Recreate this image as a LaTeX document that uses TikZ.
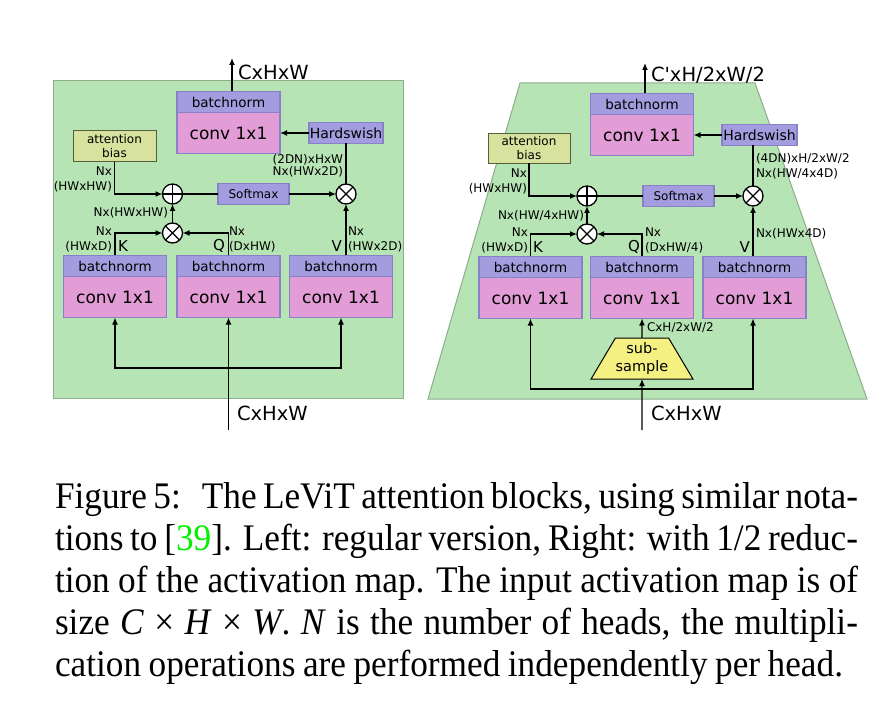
\documentclass[tikz,border=0pt]{standalone}
\usepackage{fontspec}
\setmainfont{Liberation Serif}
\newfontfamily\dejavu{DejaVu Sans}[Ligatures=TeXOff]
\usepackage{xcolor}
\usepackage{graphicx}
\usetikzlibrary{arrows.meta, positioning, shapes.geometric}

\definecolor{panelgreen}{RGB}{183,228,180}
\definecolor{paneledge}{RGB}{140,172,140}
\definecolor{bnfill}{RGB}{163,156,222}
\definecolor{bnedge}{RGB}{136,128,200}
\definecolor{convfill}{RGB}{226,157,214}
\definecolor{biasfill}{RGB}{214,226,158}
\definecolor{biasedge}{RGB}{85,95,60}
\definecolor{subfill}{RGB}{245,240,130}
\definecolor{citegreen}{RGB}{0,240,0}

% one justified caption line, narrowed a bit
\newcommand{\capline}[2]{\scalebox{0.94}[1]{\makebox[\dimexpr #1pt*100/94\relax][s]{#2}}}

\begin{document}
\begin{tikzpicture}[x=1pt, y=-1pt,
  every node/.style={inner sep=0pt, outer sep=0pt, font=\dejavu},
  bn/.style={rectangle, draw=bnedge, line width=1.2pt, fill=bnfill, minimum width=103pt, minimum height=21pt, font=\dejavu\fontsize{13.5}{16}\selectfont},
  conv/.style={rectangle, draw=bnedge, line width=1.2pt, fill=convfill, minimum width=103pt, minimum height=41pt, font=\dejavu\fontsize{17}{20}\selectfont},
  act/.style={rectangle, draw=bnedge, line width=1.2pt, fill=bnfill, minimum height=21pt, font=\dejavu\fontsize{14}{16}\selectfont},
  bias/.style={rectangle, draw=biasedge, line width=1pt, fill=biasfill, minimum width=83pt, minimum height=31pt, align=center, font=\dejavu\fontsize{12}{14}\selectfont},
  op/.style={circle, draw, line width=1.3pt, fill=white, minimum size=20pt},
  plus/.style={op, path picture={\draw[line width=1.3pt] (path picture bounding box.north) -- (path picture bounding box.south) (path picture bounding box.west) -- (path picture bounding box.east);}},
  times/.style={op, path picture={\draw[line width=1.3pt] (path picture bounding box.north west) -- (path picture bounding box.south east) (path picture bounding box.south west) -- (path picture bounding box.north east);}},
  sub/.style={trapezium, trapezium stretches=true, trapezium left angle=53, trapezium right angle=53, draw, line width=1pt, fill=subfill, minimum width=102pt, minimum height=41pt, align=center, font=\dejavu\fontsize{14.5}{18}\selectfont},
  lbl/.style={font=\dejavu\fontsize{12}{15}\selectfont},
  kqv/.style={font=\dejavu\fontsize{15}{18}\selectfont},
  big/.style={font=\dejavu\fontsize{19.5}{23}\selectfont},
  captext/.style={font=\rmfamily\fontsize{37.5}{42}\selectfont},
  arr/.style={-{Latex[length=7pt,width=6pt]}, line width=1.3pt},
  wire/.style={line width=1.3pt},
  panel/.style={fill=panelgreen, draw=paneledge, line width=1pt}]
  \useasboundingbox (0,0) rectangle (876,722);

  % Left block: regular attention
  \draw[panel] (53,81) rectangle (403,398);
  \node[bn] (lbn0) at (228.5,102) {batchnorm};
  \node[conv, below=0pt of lbn0] (lcv0) {conv 1x1};
  \node[act, minimum width=74pt] (lhs) at (346,133) {Hardswish};
  \node[bias] (lab) at (114.5,146.5) {attention\\bias};
  \node[plus] (ladd) at (172.5,194) {};
  \node[act, minimum width=71pt, font=\dejavu\fontsize{12}{14}\selectfont] (lsm) at (253.5,194) {Softmax};
  \node[times] (lmul2) at (346,194) {};
  \node[times] (lmul1) at (172.5,233) {};
  \foreach \n/\x in {k/115,q/228.5,v/341} {
    \node[bn] (lbn\n) at (\x,266) {batchnorm};
    \node[conv, below=0pt of lbn\n] (lcv\n) {conv 1x1};
  }

  \coordinate (lout) at (232,58);
  \coordinate (lin) at (228.5,430);
  \coordinate (lbus) at (0,368);
  \draw[arr] (lout |- lbn0.north) -- (lout);
  \draw[arr] (lhs.west) -- (lhs.west -| lcv0.east);
  \draw[arr] (lab.south) |- (ladd.west);
  \draw[wire] (ladd) -- (lsm);
  \draw[arr] (lsm) -- (lmul2);
  \draw[wire] (lhs) -- (lmul2);
  \draw[arr] (lmul1) -- (ladd);
  \draw[arr] (lbnk.north) |- (lmul1.west);
  \draw[arr] (lbnq.north) |- (lmul1.east);
  \draw[arr] (lmul2 |- lbnv.north) -- (lmul2);
  \draw[arr] (lin) -- (lcvq.south);
  \draw[arr] (lin |- lbus) -| (lcvk.south);
  \draw[arr] (lin |- lbus) -| (lcvv.south);

  \node[big, anchor=west] (loutlbl) at (238,72) {CxHxW};
  \node[big, anchor=west] (linlbl) at (237,413) {CxHxW};
  \node[lbl, anchor=east, align=right] (lbiaslbl) at (112,179.5) {Nx\\(HWxHW)};
  \node[lbl, anchor=east] (lattlbl) at (168,213) {Nx(HWxHW)};
  \node[lbl, anchor=east, align=right] (lklbl) at (112,239.5) {Nx\\(HWxD)};
  \node[kqv, anchor=west] (lk) at (118,246) {K};
  \node[kqv, anchor=east] (lq) at (225,246) {Q};
  \node[lbl, anchor=west, align=left] (lqlbl) at (229,239.5) {Nx\\(DxHW)};
  \node[kqv, anchor=east] (lv) at (342,246) {V};
  \node[lbl, anchor=west, align=left] (lvlbl) at (348,239.5) {Nx\\(HWx2D)};
  \node[lbl, anchor=east, align=right, font=\dejavu\fontsize{12}{10.5}\selectfont] (lmullbl) at (343,166) {(2DN)xHxW\\Nx(HWx2D)};

  % Right block: with 1/2 subsampling
  \draw[panel] (520,83) -- (755,83) -- (867,399) -- (428,399) -- cycle;
  \node[bn] (rbn0) at (642,104) {batchnorm};
  \node[conv, below=0pt of rbn0] (rcv0) {conv 1x1};
  \node[act, minimum width=75pt] (rhs) at (759.5,135) {Hardswish};
  \node[bias, minimum width=82pt, minimum height=30pt] (rab) at (529,148.5) {attention\\bias};
  \node[plus] (radd) at (587,196) {};
  \node[act, minimum width=71pt, font=\dejavu\fontsize{12}{14}\selectfont] (rsm) at (678.5,196) {Softmax};
  \node[times] (rmul2) at (753,196) {};
  \node[times] (rmul1) at (587,234) {};
  \foreach \n/\x in {k/530.5,q/642,v/754.5} {
    \node[bn] (rbn\n) at (\x,267) {batchnorm};
    \node[conv, below=0pt of rbn\n] (rcv\n) {conv 1x1};
  }
  \node[sub] (rsub) at (642,358.5) {sub-\\sample};

  \coordinate (rout) at (645,63);
  \coordinate (rin) at (642,430);
  \coordinate (rbus) at (0,389);
  \draw[arr] (rout |- rbn0.north) -- (rout);
  \draw[arr] (rhs.west) -- (rhs.west -| rcv0.east);
  \draw[arr] (rab.south) |- (radd.west);
  \draw[wire] (radd) -- (rsm);
  \draw[arr] (rsm) -- (rmul2);
  \draw[wire] (rmul2 |- rhs.south) -- (rmul2);
  \draw[arr] (rmul1) -- (radd);
  \draw[arr] (rbnk.north) |- (rmul1.west);
  \draw[arr] (rbnq.north) |- (rmul1.east);
  \draw[arr] (rmul2 |- rbnv.north) -- (rmul2);
  \draw[arr] (rsub.north) -- (rcvq.south);
  \draw[arr] (rin) -- (rsub.south);
  \draw[arr] (rin |- rbus) -| (rcvk.south);
  \draw[arr] (rin |- rbus) -| (rmul2 |- rcvv.south);

  \node[big, anchor=west] (routlbl) at (651,75) {C'xH/2xW/2};
  \node[big, anchor=west] (rinlbl) at (651,413) {CxHxW};
  \node[lbl, anchor=west] (rsublbl) at (647,328) {CxH/2xW/2};
  \node[lbl, anchor=east, align=right] (rbiaslbl) at (527,181) {Nx\\(HWxHW)};
  \node[lbl, anchor=east] (rattlbl) at (584,216) {Nx(HW/4xHW)};
  \node[lbl, anchor=east, align=right] (rklbl) at (528,240) {Nx\\(HWxD)};
  \node[kqv, anchor=west] (rk) at (533,247) {K};
  \node[kqv, anchor=east] (rq) at (640,247) {Q};
  \node[lbl, anchor=west, align=left] (rqlbl) at (645,240) {Nx\\(DxHW/4)};
  \node[kqv, anchor=east] (rv) at (750,247) {V};
  \node[lbl, anchor=west] (rvlbl) at (756,234) {Nx(HWx4D)};
  \node[lbl, anchor=west, align=left] (rmullbl) at (756,166.5) {(4DN)xH/2xW/2\\Nx(HW/4x4D)};

  % Caption
  \node[captext, anchor=base west] (cap1) at (55,508) {\capline{803}{Figure 5:\hspace{0.3em} The LeViT attention blocks, using similar nota-}};
  \node[captext, anchor=base west] (cap2) at (55,550) {\capline{803}{tions to [\textcolor{citegreen}{39}]. Left: regular version, Right: with 1/2 reduc-}};
  \node[captext, anchor=base west] (cap3) at (55,592) {\capline{803}{tion of the activation map. The input activation map is of}};
  \node[captext, anchor=base west] (cap4) at (55,634) {\capline{803}{size \textit{C}~×~\textit{H}~×~\textit{W}. \textit{N} is the number of heads, the multipli-}};
  \node[captext, anchor=base west] (cap5) at (55,676) {\capline{788}{cation operations are performed independently per head.}};
\end{tikzpicture}
\end{document}
